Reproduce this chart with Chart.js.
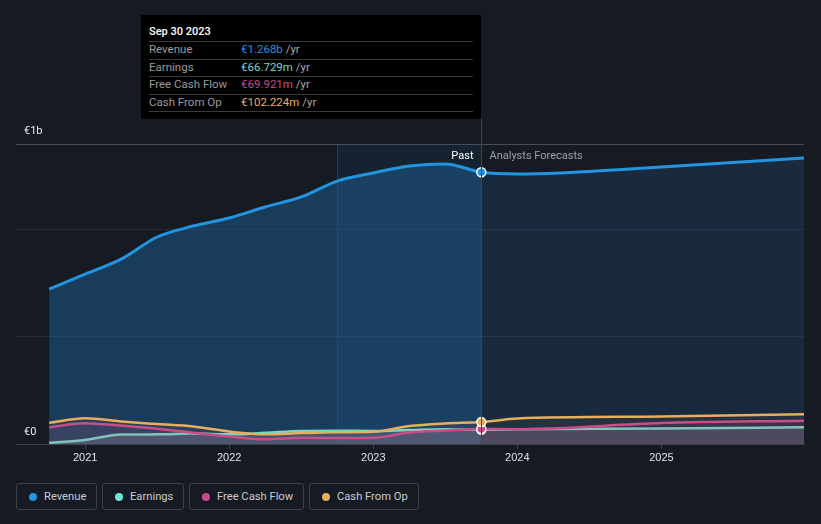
<!DOCTYPE html>
<html>
<head>
<meta charset="utf-8">
<script src="https://cdn.jsdelivr.net/npm/chart.js@4.4.1/dist/chart.umd.min.js"></script>
<style>
  html, body { margin: 0; padding: 0; background: #151a23; }
  body { width: 821px; height: 524px; position: relative; overflow: hidden; font-family: Roboto, 'Open Sans', sans-serif; }
  #wrap { position: absolute; left: 0; top: 0; width: 821px; height: 475px; }
  #tip { position: absolute; left: 141px; top: 15px; width: 340px; height: 104px; background: #000; }
  #tip .title { position: absolute; left: 8px; top: 10px; color: #fff; font-size: 11px; font-weight: 500; }
  #tip .row { position: absolute; left: 8px; width: 324px; height: 17px; border-top: 1px solid #3a3a3a; font-size: 11.5px; line-height: 15px; }
  #tip .row .lab { position: absolute; left: 0; color: #9a9a9a; }
  #tip .row .val { position: absolute; left: 92px; color: #aaa; }
  #tip .last { position: absolute; left: 8px; width: 324px; top: 96px; border-top: 1px solid #3a3a3a; }
  #legend { position: absolute; left: 16px; top: 483px; display: flex; gap: 5px; }
  .item { box-sizing: border-box; height: 27px; border: 1px solid #3a414c; border-radius: 3px; padding: 0 0 0 27px; position: relative; color: #c9ccd1; font-size: 11.2px; line-height: 25px; white-space: nowrap; }
  .item i { position: absolute; left: 12px; top: 8.5px; width: 8px; height: 8px; border-radius: 50%; }
</style>
</head>
<body>
<div id="wrap"><canvas id="chart"></canvas></div>
<div id="tip"></div>
<div id="legend"></div>
<script>
/* ─────────────────────────────────────────
   DATA  (dates as decimal years, values in €m)
───────────────────────────────────────── */
const dates    = [2020.75, 2021.0, 2021.25, 2021.5, 2021.75, 2022.0, 2022.25, 2022.5, 2022.75, 2023.0, 2023.25, 2023.5, 2023.75, 2024.0, 2025.0, 2025.99];
const revenue  = [723, 793, 863, 966, 1017, 1055, 1106, 1153, 1227, 1265, 1297, 1307, 1268, 1260, 1293, 1335];
const earnings = [6, 19, 44, 45, 49, 45, 52, 61, 62, 61, 65, 69, 66.7, 69, 72, 78];
const fcf      = [78, 97, 86, 71, 53, 35, 22, 29, 28, 29, 54, 63, 69.9, 69, 98, 109];
const cfo      = [99, 120, 105, 93, 82, 58, 45, 51, 55, 57, 84, 96, 102.2, 119, 128, 139];

const yearTicks  = [2021, 2022, 2023, 2024, 2025];
const yGrid      = [0, 500, 1000, 1400];
const pastEnd    = 2023.75;
const bandStart  = 2022.75;

const seriesNames = ['Revenue', 'Earnings', 'Free Cash Flow', 'Cash From Op'];
const colors      = ['#2394df', '#72d8c8', '#c9488b', '#e8ae5c'];
const tipValues   = ['€1.268b', '€66.729m', '€69.921m', '€102.224m'];

/* ─────────────────────────────────────────
   TOOLTIP + LEGEND (static html)
───────────────────────────────────────── */
const tip = document.getElementById('tip');
let html = '<div class="title">Sep 30 2023</div>';
seriesNames.forEach((n, i) => {
  html += `<div class="row" style="top:${26 + i * 17.5}px"><span class="lab">${n}</span>` +
          `<span class="val"><span style="color:${colors[i]}">${tipValues[i]}</span> /yr</span></div>`;
});
html += '<div class="last"></div>';
tip.innerHTML = html;

const legendColors = ['#2394df', '#6fe3d3', '#c9488b', '#e8ae5c'];
const legendWidths = [81, 82, 115, 110];
document.getElementById('legend').innerHTML = seriesNames
  .map((n, i) => `<div class="item" style="width:${legendWidths[i]}px"><i style="background:${legendColors[i]}"></i>${n}</div>`).join('');

/* ─────────────────────────────────────────
   HELPERS
───────────────────────────────────────── */
const pts = arr => arr.map((v, i) => ({ x: dates[i], y: v }));
const markerRadius = ctx => (dates[ctx.dataIndex] === pastEnd ? 4.5 : 0);

function revenueFill(ctx) {
  const chart = ctx.chart;
  const area = chart.chartArea;
  if (!area) return 'rgba(35,148,223,0.2)';
  const px = chart.scales.x.getPixelForValue(pastEnd);
  const f = (px - area.left) / (area.right - area.left);
  const g = chart.ctx.createLinearGradient(area.left, 0, area.right, 0);
  g.addColorStop(0, 'rgba(30,90,140,0.55)');
  g.addColorStop(f, 'rgba(30,90,140,0.55)');
  g.addColorStop(Math.min(f + 0.001, 1), 'rgba(35,75,115,0.35)');
  g.addColorStop(1, 'rgba(35,75,115,0.35)');
  return g;
}

function line(label, data, color, fill, order, width) {
  return {
    label, data: pts(data), order,
    borderColor: color, borderWidth: width,
    backgroundColor: fill, fill: 'origin',
    cubicInterpolationMode: 'monotone',
    pointRadius: markerRadius, pointHoverRadius: 0,
    pointBackgroundColor: color, pointBorderColor: '#ffffff', pointBorderWidth: 1.5,
  };
}

/* ─────────────────────────────────────────
   DECORATION PLUGIN
───────────────────────────────────────── */
const deco = {
  id: 'deco',
  beforeDatasetsDraw(chart) {
    const { ctx, chartArea: a, scales: { x } } = chart;
    const x0 = x.getPixelForValue(bandStart), x1 = x.getPixelForValue(pastEnd);
    ctx.save();
    ctx.fillStyle = 'rgba(30,110,170,0.10)';
    ctx.fillRect(x0, a.top, x1 - x0, a.bottom - a.top);
    ctx.strokeStyle = 'rgba(40,90,130,0.5)';
    ctx.lineWidth = 1;
    ctx.beginPath();
    ctx.moveTo(Math.round(x0) + 0.5, a.top); ctx.lineTo(Math.round(x0) + 0.5, a.bottom);
    ctx.stroke();
    ctx.restore();
  },
  afterDatasetsDraw(chart) {
    const { ctx, chartArea: a, scales: { x, y } } = chart;
    const px = Math.round(x.getPixelForValue(pastEnd)) + 0.5;
    ctx.save();
    ctx.strokeStyle = '#2b4a66';
    ctx.lineWidth = 1;
    ctx.beginPath();
    ctx.moveTo(px, 119); ctx.lineTo(px, a.bottom);
    ctx.stroke();

    ctx.font = "11px Roboto, 'Open Sans', sans-serif";
    ctx.textBaseline = 'middle';
    ctx.fillStyle = '#ffffff';
    ctx.textAlign = 'right';
    ctx.fillText('Past', px - 8, 156);
    ctx.fillStyle = '#9aa0a8';
    ctx.textAlign = 'left';
    ctx.fillText('Analysts Forecasts', px + 8, 156);

    ctx.fillStyle = '#e8eaed';
    ctx.fillText('€1b', a.left + 8, y.getPixelForValue(1400) - 13);
    ctx.fillText('€0', a.left + 8, y.getPixelForValue(0) - 12);
    ctx.restore();
  }
};

/* ─────────────────────────────────────────
   CHART
───────────────────────────────────────── */
new Chart(document.getElementById('chart'), {
  type: 'line',
  data: {
    datasets: [
      line('Revenue', revenue, colors[0], revenueFill, 4, 3),
      line('Earnings', earnings, colors[1], 'rgba(150,160,175,0.22)', 3, 2.5),
      line('Free Cash Flow', fcf, colors[2], 'rgba(201,72,139,0.13)', 2, 2.5),
      line('Cash From Op', cfo, colors[3], 'rgba(232,174,92,0.05)', 1, 2.5),
    ]
  },
  options: {
    responsive: true,
    maintainAspectRatio: false,
    animation: false,
    layout: { padding: { left: 16, right: 17, top: 144, bottom: 0 } },
    plugins: { legend: { display: false }, tooltip: { enabled: false } },
    scales: {
      x: {
        type: 'linear', min: 2020.52, max: 2025.99,
        afterBuildTicks: s => { s.ticks = yearTicks.map(v => ({ value: v })); },
        afterFit: s => { s.height = 31; },
        ticks: { color: '#e0e2e5', font: { size: 11 }, padding: 2, maxRotation: 0, callback: v => String(v) },
        grid: { drawOnChartArea: false, drawTicks: true, tickLength: 5, color: '#3c424c' },
        border: { display: true, color: '#3c424c', width: 1 },
      },
      y: {
        min: 0, max: 1400,
        afterBuildTicks: s => { s.ticks = yGrid.map(v => ({ value: v })); },
        afterFit: s => { s.width = 0; },
        ticks: { display: false },
        grid: {
          drawTicks: false,
          color: c => (c.tick.value === 1400 ? '#474d56' : c.tick.value === 0 ? 'rgba(0,0,0,0)' : '#262c36'),
        },
        border: { display: false },
      }
    }
  },
  plugins: [deco]
});
</script>
</body>
</html>
